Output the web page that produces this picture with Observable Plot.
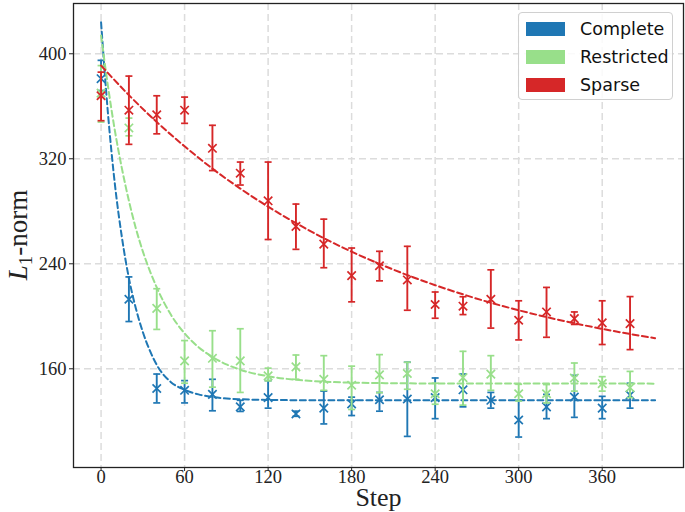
<!DOCTYPE html>
<html>
<head>
<meta charset="utf-8">
<script src="https://cdn.jsdelivr.net/npm/d3@7"></script>
<script src="https://cdn.jsdelivr.net/npm/@observablehq/plot@0.6"></script>
<style>
  html, body { margin: 0; padding: 0; background: white; }
  #wrap { position: relative; width: 685px; height: 512px; }
  #legend { position: absolute; left: 518px; top: 12px; width: 155px; height: 88px;
    border: 1px solid #d0d0d0; border-radius: 4px; background: rgba(255,255,255,0.85);
    box-sizing: border-box; font-family: "DejaVu Sans", sans-serif; font-size: 17.5px; color: #111; }
  .item { position: absolute; left: 7px; height: 20px; display: flex; align-items: center; }
  .sw { width: 39px; height: 14px; margin-right: 15px; }
</style>
</head>
<body>
<div id="wrap"><div id="legend"></div></div>
<script>
// ---- data ----
const steps = [0,20,40,60,80,100,120,140,160,180,200,220,240,260,280,300,320,340,360,380];

const completeMean = [381,213,145,143.6,140.5,131,138,125.6,130,133.3,136.4,137,138,144,136,121,131,138.5,130,140];
const completeLo   = [372,196,134,134,128,127.5,130,123.8,118,124.4,127.7,108.5,122,131,130,108,122,123,122,130];
const completeHi   = [395,230,156,151,152,136,151,127.7,143,138.4,142,165,153,156,142,136,140.5,155,139,149];

const restrictedMean = [370,343.5,206,166,168,166,154.6,161.5,152,147.5,155.4,156.4,141,153.3,155.9,141,141,153,148.7,145.6];
const restrictedLo   = [348,337.5,190,149,146,142,150.8,152,143.6,129,141.8,144.4,133,132.3,143.6,135.4,134,143,143,138];
const restrictedHi   = [391,351,221,181.5,189,190.5,160.5,170.5,170,162,170.8,165,149,173.3,170,148.2,148,164.4,154,158];

const sparseMean = [368,357,353.5,357,328,309,288,268.5,255,231,238.5,227.7,209,207.7,213,197,203.3,198.2,195,194.4];
const sparseLo   = [349,331,339,347,311,300,258.5,251,237,211,227,204.6,198.5,201.3,191,182,184,193.8,178.5,174.6];
const sparseHi   = [386,383,368,367,345.5,317.5,317.5,285.5,274,252,249.5,253.3,218.5,214.9,235.4,211.8,222,203.3,211.8,215];

// dashed fitted curves
const completeFitSteps  = [0,5,10,15,20,25,30,35,40,50,60,70,80,100,120,160,398];
const completeFitValues = [424,354,300,260,229,206,188,174,163,150,144,140.5,138.5,136.8,136.3,136,136];
const restrictedFitSteps  = [0,5,10,15,20,25,30,40,50,60,70,80,90,100,120,140,160,200,250,398];
const restrictedFitValues = [414,375,341,312.5,288,267,249.5,222,201.5,187,176.5,169,163.4,159.3,154.3,151.6,150.2,149.1,148.8,148.7];
const sparseFitSteps  = [0,20,40,60,80,100,120,140,160,180,200,220,240,260,280,300,320,340,360,380,398];
const sparseFitValues = [391,368.5,348,329.5,312.5,297.3,283.5,271,259.5,249.2,239.9,231.4,223.7,216.7,210.3,204.6,199.4,194.7,190.4,186.5,183.3];

const seriesNames  = ["Complete","Restricted","Sparse"];
const seriesColors = ["#1f77b4","#98df8a","#d62728"];

const xTicks = [0,60,120,180,240,300,360];
const yTicks = [160,240,320,400];

// ---- build tables ----
const points = [
  [completeMean, completeLo, completeHi],
  [restrictedMean, restrictedLo, restrictedHi],
  [sparseMean, sparseLo, sparseHi]
].map(([m, lo, hi], k) => steps.map((s, i) => ({series: seriesNames[k], step: s, mean: m[i], lo: lo[i], hi: hi[i]})));

const fits = [
  [completeFitSteps, completeFitValues],
  [restrictedFitSteps, restrictedFitValues],
  [sparseFitSteps, sparseFitValues]
].map(([xs, ys], k) => xs.map((s, i) => ({series: seriesNames[k], step: s, value: ys[i]})));

const capSymbol = { draw(ctx, size) { const w = Math.sqrt(size / Math.PI); ctx.moveTo(-w, 0); ctx.lineTo(w, 0); } };

const seriesMarks = [];
seriesNames.forEach((name, k) => {
  const c = seriesColors[k];
  seriesMarks.push(
    Plot.ruleX(points[k], {x: "step", y1: "lo", y2: "hi", stroke: c, strokeWidth: 1.9}),
    Plot.dot(points[k], {x: "step", y: "lo", symbol: capSymbol, r: 3.5, stroke: c, strokeWidth: 1.7}),
    Plot.dot(points[k], {x: "step", y: "hi", symbol: capSymbol, r: 3.5, stroke: c, strokeWidth: 1.7}),
    Plot.dot(points[k], {x: "step", y: "mean", symbol: "times", r: 3.9, stroke: c, strokeWidth: 1.7}),
    Plot.line(fits[k], {x: "step", y: "value", stroke: c, strokeWidth: 2, strokeDasharray: "6,3.5", curve: "monotone-x"})
  );
});

const svg = Plot.plot({
  width: 685, height: 512,
  marginLeft: 73, marginRight: 2, marginTop: 3, marginBottom: 45,
  style: {fontFamily: "'Liberation Serif', serif", fontSize: "18.5px", background: "white", color: "#222"},
  x: {domain: [-19.8, 418.4]},
  y: {domain: [84.8, 438.3]},
  marks: [
    Plot.gridX(xTicks, {stroke: "#dcdcdc", strokeOpacity: 1, strokeWidth: 1.5, strokeDasharray: "7,4"}),
    Plot.gridY(yTicks, {stroke: "#dcdcdc", strokeOpacity: 1, strokeWidth: 1.5, strokeDasharray: "7,4"}),
    ...seriesMarks,
    Plot.frame({stroke: "#222", strokeWidth: 1.3}),
    Plot.axisX(xTicks, {tickSize: 4, tickPadding: -2, label: null, fontSize: 18.5}),
    Plot.axisY(yTicks, {tickSize: 4, tickPadding: 3, label: null, fontSize: 18.5}),
    Plot.text(["Step"], {frameAnchor: "bottom", lineAnchor: "middle", dy: 30, fontSize: 26, fill: "#222"})
  ]
});

// y-axis label with italic L and subscript 1
const lab = d3.select(svg).append("text")
  .attr("transform", "translate(27,235) rotate(-90)")
  .attr("text-anchor", "middle")
  .attr("font-family", "'Liberation Serif', serif")
  .attr("font-size", 27)
  .attr("fill", "#222");
lab.append("tspan").attr("font-style", "italic").text("L");
lab.append("tspan").attr("font-size", 19).attr("dy", 5).text("1");
lab.append("tspan").attr("dy", -5).text("-norm");

document.getElementById("wrap").prepend(svg);
svg.style.position = "absolute"; svg.style.left = "0"; svg.style.top = "0";

// legend
const legend = document.getElementById("legend");
seriesNames.forEach((name, k) => {
  const it = document.createElement("div");
  it.className = "item";
  it.style.top = (6 + k * 28) + "px";
  const sw = document.createElement("div");
  sw.className = "sw"; sw.style.background = seriesColors[k];
  const tx = document.createElement("span"); tx.textContent = name;
  it.append(sw, tx);
  legend.append(it);
});
document.getElementById("wrap").append(legend);
</script>
</body>
</html>
